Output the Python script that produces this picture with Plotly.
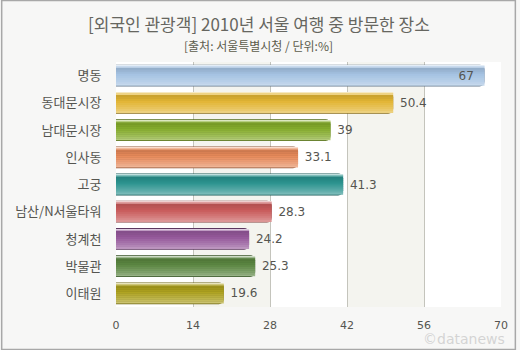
import plotly.graph_objects as go

# Places visited by foreign tourists in Seoul, 2010 (%)
places = ["명동", "동대문시장", "남대문시장", "인사동", "고궁",
          "남산/N서울타워", "청계천", "박물관", "이태원"]
shares = [67, 50.4, 39, 33.1, 41.3, 28.3, 24.2, 25.3, 19.6]
bar_colors = ["#a4c2e2", "#e2b534", "#86ae2c", "#e88a5a", "#2a928e",
              "#c85a5a", "#94589a", "#5c8842", "#aea21e"]
x_ticks = [0, 14, 28, 42, 56, 70]

title_text = "[외국인 관광객] 2010년 서울 여행 중 방문한 장소"
subtitle_text = "[출처: 서울특별시청 / 단위:%]"

W, H = 520, 350
ML, MR, MT, MB = 116, 15, 62, 43
PW, PH = W - ML - MR, H - MT - MB


def shade(hex_color, f):
    """f > 0 mixes toward white, f < 0 toward black."""
    r, g, b = (int(hex_color[i:i + 2], 16) for i in (1, 3, 5))
    if f >= 0:
        r, g, b = (c + (255 - c) * f for c in (r, g, b))
    else:
        r, g, b = (c * (1 + f) for c in (r, g, b))
    return "#%02x%02x%02x" % tuple(int(round(c)) for c in (r, g, b))


fig = go.Figure()

bar_w = 0.8
px_unit = len(places) / PH  # category units per pixel

# outer body with the darker rim
fig.add_trace(go.Bar(
    x=shares, y=places, orientation="h", width=bar_w, offset=-bar_w / 2,
    marker=dict(color=[shade(c, -0.38) for c in bar_colors], line=dict(width=0),
                cornerradius=5),
    hoverinfo="skip", showlegend=False))

# glossy vertical gradient, built from thin horizontal bands (top -> bottom)
profile = [(1, 0.70), (1, 0.40), (2, -0.10), (2, -0.07), (2, -0.03),
           (2, 0.02), (2, 0.08), (2, 0.14), (2, 0.20), (2, 0.27), (1.8, 0.36)]
inner_top = -bar_w / 2 + px_unit
total_px = sum(p for p, _ in profile)
scale = (bar_w - 2 * px_unit) / (total_px * px_unit)
pos = inner_top
for n_px, f in profile:
    h = n_px * px_unit * scale
    fig.add_trace(go.Bar(
        x=shares, y=places, orientation="h", width=h * 1.15, offset=pos,
        marker=dict(color=[shade(c, f) for c in bar_colors], line=dict(width=0)),
        hoverinfo="skip", showlegend=False))
    pos += h

# value labels
fig.add_trace(go.Bar(
    x=shares, y=places, orientation="h", width=bar_w, offset=-bar_w / 2,
    marker=dict(color="rgba(0,0,0,0)", line=dict(width=0)),
    text=[(f"{v:g}  " if v == max(shares) else f" {v:g}") for v in shares],
    textposition=["inside" if v == max(shares) else "outside" for v in shares],
    insidetextanchor="end",
    textfont=dict(family="DejaVu Sans", size=12, color="#555550"),
    cliponaxis=False, hoverinfo="skip", showlegend=False))

# alternating column bands
shapes = []
for i in range(len(x_ticks) - 1):
    if i % 2 == 1:
        shapes.append(dict(type="rect", xref="x", yref="paper",
                           x0=x_ticks[i], x1=x_ticks[i + 1], y0=0, y1=1,
                           fillcolor="#f4f4ef", line=dict(width=0), layer="below"))
# outer frame of the whole graphic
shapes.append(dict(type="rect", xref="paper", yref="paper",
                   x0=(0.5 - ML) / PW, x1=(W - 0.5 - ML) / PW,
                   y0=-(MB - 0.5) / PH, y1=1 + (MT - 0.5) / PH,
                   line=dict(color="#a8a8a8", width=1.5), fillcolor="rgba(0,0,0,0)",
                   layer="above"))

fig.update_layout(
    width=W, height=H,
    margin=dict(l=ML, r=MR, t=MT, b=MB),
    barmode="overlay",
    paper_bgcolor="#f7f7f6",
    plot_bgcolor="#ffffff",
    shapes=shapes,
    xaxis=dict(range=[0, 70], tickvals=x_ticks, showgrid=True,
               gridcolor="#c4c4bc", gridwidth=1, zeroline=False, showline=False,
               ticks="outside", ticklen=8, tickcolor="rgba(0,0,0,0)",
               tickfont=dict(family="DejaVu Sans", size=11, color="#555550"),
               fixedrange=True),
    yaxis=dict(autorange="reversed", showgrid=False, zeroline=False, showline=False,
               ticks="outside", ticklen=11, tickcolor="rgba(0,0,0,0)",
               tickfont=dict(family="Noto Sans CJK KR", size=13, color="#555550"),
               fixedrange=True),
    annotations=[
        dict(text=title_text, xref="paper", yref="paper",
             x=(W / 2 - ML) / PW, y=1 + (MT - 23) / PH, xanchor="center", yanchor="middle",
             showarrow=False,
             font=dict(family="Noto Sans CJK KR", size=17, color="#666660")),
        dict(text=subtitle_text, xref="paper", yref="paper",
             x=(W / 2 - ML) / PW, y=1 + (MT - 45) / PH, xanchor="center", yanchor="middle",
             showarrow=False,
             font=dict(family="Noto Sans CJK KR", size=12, color="#5c5c4c")),
        dict(text="©datanews", xref="paper", yref="paper",
             x=(W - 9 - ML) / PW, y=-(339 - MT - PH) / PH, xanchor="right", yanchor="middle",
             showarrow=False,
             font=dict(family="DejaVu Sans", size=14, color="rgba(200,200,200,0.75)")),
    ],
)

fig.write_html("out.html")
